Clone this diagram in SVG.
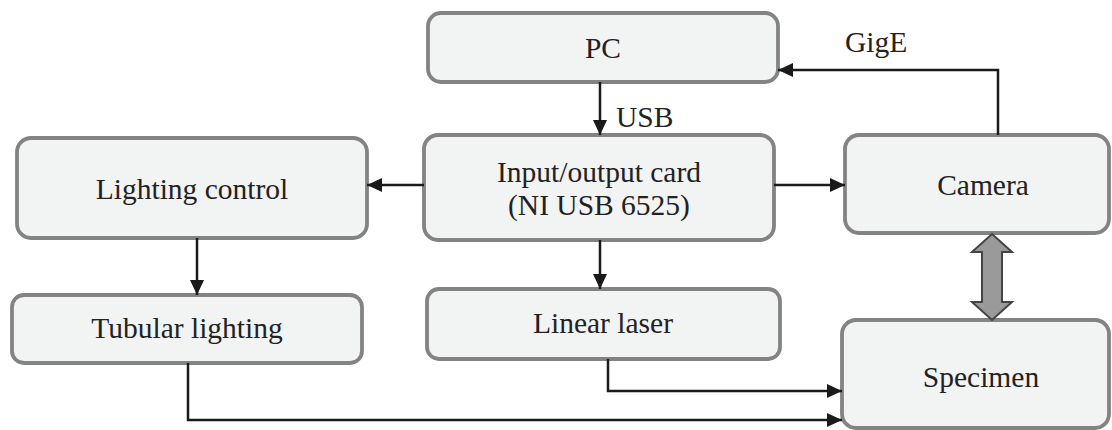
<svg xmlns="http://www.w3.org/2000/svg" width="1112" height="430" viewBox="0 0 1112 430">
  <defs>
    <style>
      .box { fill: #f2f3f3; stroke: #838383; stroke-width: 3.8; }
      .wire { fill: none; stroke: #1a1a1a; stroke-width: 2.5; marker-end: url(#head); }
      .dbl { fill: #9a9a9a; stroke: #444; stroke-width: 2; stroke-linejoin: miter; }
    </style>
    <marker id="head" markerUnits="userSpaceOnUse" markerWidth="16" markerHeight="14" refX="15" refY="7" orient="auto">
      <path d="M0,0 L15,7 L0,14 z" fill="#1a1a1a"/>
    </marker>
  </defs>

  <g font-family="'Liberation Serif', 'Times New Roman', Times, serif" font-size="29.5" fill="#222">
    <!-- nodes -->
    <g id="pc" text-anchor="middle">
      <rect class="box" x="428" y="13" width="350" height="69" rx="13"/>
      <text x="603" y="58">PC</text>
    </g>
    <g id="io-card" text-anchor="middle">
      <rect class="box" x="424" y="135" width="350" height="105" rx="14"/>
      <text x="599" y="182">Input/output card</text>
      <text x="599" y="215">(NI USB 6525)</text>
    </g>
    <g id="lighting-control" text-anchor="middle">
      <rect class="box" x="17" y="138" width="350" height="100" rx="14"/>
      <text x="192" y="199">Lighting control</text>
    </g>
    <g id="tubular-lighting" text-anchor="middle">
      <rect class="box" x="12" y="295" width="350" height="68" rx="12"/>
      <text x="187" y="338">Tubular lighting</text>
    </g>
    <g id="linear-laser" text-anchor="middle">
      <rect class="box" x="427" y="289" width="353" height="70" rx="12"/>
      <text x="603" y="333">Linear laser</text>
    </g>
    <g id="camera" text-anchor="middle">
      <rect class="box" x="845" y="135" width="264" height="98" rx="14"/>
      <text x="983" y="195">Camera</text>
    </g>
    <g id="specimen" text-anchor="middle">
      <rect class="box" x="842" y="320" width="267" height="108" rx="14"/>
      <text x="981" y="387">Specimen</text>
    </g>

    <!-- connectors -->
    <g id="connectors">
      <path class="wire" d="M600,82 V135"/>
      <text x="616" y="127">USB</text>
      <path class="wire" d="M998,135 V70 H778"/>
      <text x="845" y="52">GigE</text>
      <path class="wire" d="M424,185 H367"/>
      <path class="wire" d="M774,185 H845"/>
      <path class="wire" d="M197,238 V295"/>
      <path class="wire" d="M600,240 V289"/>
      <path class="wire" d="M608,359 V391 H842"/>
      <path class="wire" d="M188,363 V420 H842"/>
      <polygon class="dbl" points="992,234 1012,252 1002,252 1002,302 1012,302 992,320 972,302 982,302 982,252 972,252"/>
    </g>
  </g>
</svg>
